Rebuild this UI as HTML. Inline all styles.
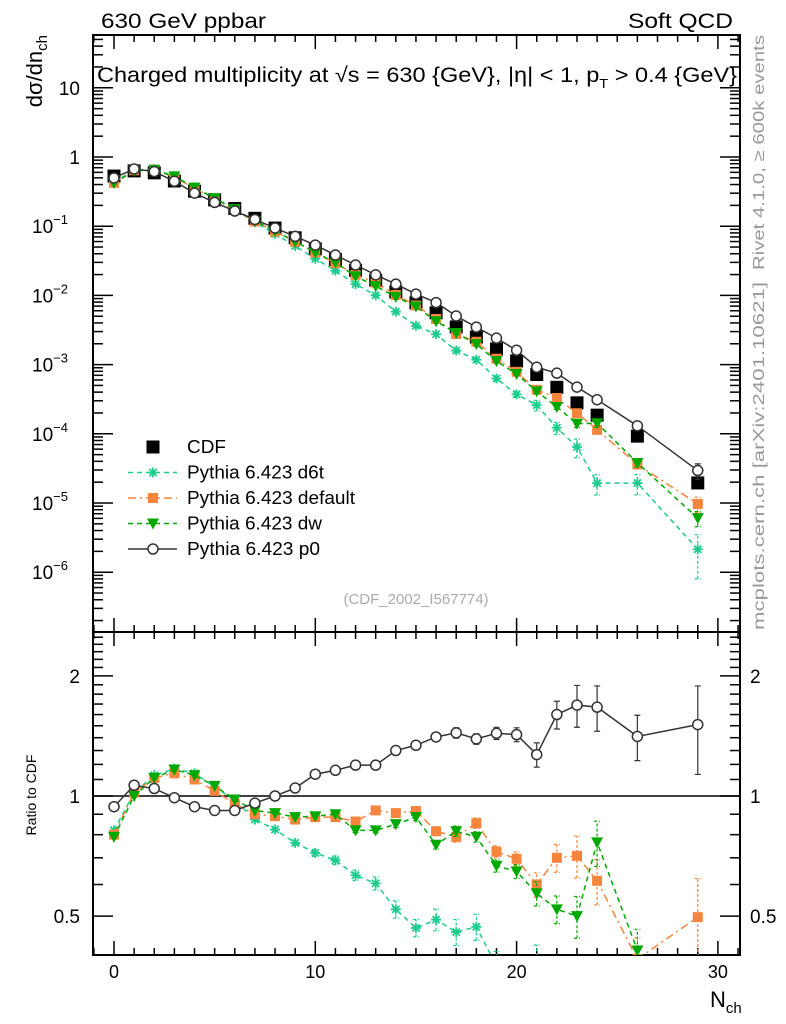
<!DOCTYPE html>
<html><head><meta charset="utf-8"><style>
html,body{margin:0;padding:0;background:#fff;overflow:hidden;width:786px;height:1024px;}
svg{display:block;font-family:"Liberation Sans",sans-serif;}
</style></head><body>
<svg id="chart" width="786" height="1024" viewBox="0 0 786 1024" xmlns="http://www.w3.org/2000/svg">
<defs>
<clipPath id="clipMain"><rect x="93" y="35" width="647" height="597"/></clipPath>
<clipPath id="clipRatio"><rect x="93" y="632" width="647" height="323"/></clipPath>
</defs>
<rect width="786" height="1024" fill="#fff"/>
<text x="101" y="28" font-size="21" textLength="165" lengthAdjust="spacingAndGlyphs">630 GeV ppbar</text>
<text x="628" y="28" font-size="21" textLength="105" lengthAdjust="spacingAndGlyphs">Soft QCD</text>
<text x="97" y="82" font-size="21" textLength="640" lengthAdjust="spacingAndGlyphs">Charged multiplicity at √s = 630 {GeV}, |η| &lt; 1, p<tspan font-size="13" dy="6">T</tspan><tspan dy="-6"> &gt; 0.4 {GeV}</tspan></text>
<text transform="translate(764,35) rotate(-90)" font-size="16" fill="#999" x="-235" textLength="235" lengthAdjust="spacingAndGlyphs">Rivet 4.1.0, ≥ 600k events</text>
<text transform="translate(764,282) rotate(-90)" font-size="16" fill="#999" x="-348" textLength="348" lengthAdjust="spacingAndGlyphs">mcplots.cern.ch [arXiv:2401.10621]</text>
<text x="416" y="604" font-size="15" fill="#aaa" text-anchor="middle">(CDF_2002_I567774)</text>
<text transform="translate(42,35) rotate(-90)" font-size="22" text-anchor="end">dσ/dn<tspan font-size="15" dy="5">ch</tspan></text>
<text transform="translate(36,795) rotate(-90)" font-size="14" text-anchor="middle">Ratio to CDF</text>
<text x="710" y="1007" font-size="22">N<tspan font-size="15" dy="6">ch</tspan></text>
<g id="axes"></g>
<g id="mainMarks" clip-path="url(#clipMain)"></g>
<g id="ratioMarks" clip-path="url(#clipRatio)"></g>
<g id="legend"></g>
</svg>
<script>
// ---- data ----
const nch = [0,1,2,3,4,5,6,7,8,9,10,11,12,13,14,15,16,17,18,19,20,21,22,23,24,26,29];
const cdfValues = [0.53,0.63,0.59,0.45,0.32,0.24,0.18,0.13,0.094,0.068,0.047,0.033,0.023,0.0166,0.0112,0.0078,0.0056,0.0035,0.0025,0.00168,0.00113,0.00072,0.00047,0.00028,0.000186,0.0000925,0.0000195];
const ratioD6t = [0.82,1.02,1.127,1.17,1.14,1.054,0.975,0.873,0.824,0.763,0.72,0.69,0.633,0.604,0.52,0.467,0.49,0.456,0.47,0.375,0.33,0.36,0.26,0.23,0.104,0.21,0.11];
const ratioDefault = [0.80,1.02,1.11,1.14,1.10,1.03,0.956,0.90,0.89,0.873,0.885,0.885,0.863,0.92,0.906,0.917,0.816,0.79,0.855,0.725,0.696,0.60,0.70,0.708,0.613,0.39,0.497];
const ratioDw = [0.79,1.0,1.11,1.165,1.127,1.06,0.98,0.92,0.906,0.885,0.89,0.90,0.82,0.82,0.85,0.885,0.755,0.816,0.79,0.668,0.647,0.57,0.52,0.50,0.765,0.41,0.31];
const ratioP0 = [0.94,1.064,1.044,0.99,0.94,0.92,0.92,0.96,1.0,1.047,1.134,1.16,1.195,1.195,1.30,1.34,1.406,1.44,1.39,1.436,1.425,1.27,1.60,1.69,1.67,1.41,1.51];
const relErr = [0,0,0,0,0,0,0,0,0,0.005,0.008,0.01,0.012,0.015,0.02,0.02,0.025,0.03,0.03,0.035,0.04,0.07,0.08,0.12,0.13,0.13,0.25];
const yTickExps = [1,0,-1,-2,-3,-4,-5,-6];
const ratioTickLabels = [0.5,1,2];
const xTickLabels = [0,10,20,30];
const legendLabels=['CDF','Pythia 6.423 d6t','Pythia 6.423 default','Pythia 6.423 dw','Pythia 6.423 p0'];

// ---- axes ----
const X = n => 114 + n*20.13;
const YM = v => 157 - 69.2*Math.log10(v);
const YR = r => 796 - 399*Math.log10(r);
const NS = "http://www.w3.org/2000/svg";
function mk(tag, attrs, parent){const e=document.createElementNS(NS,tag);for(const k in attrs)e.setAttribute(k,attrs[k]);parent.appendChild(e);return e;}
const axes = document.getElementById('axes');
const L=93,R=740,T=35,MB=632,RB=955;
let f1 = mk('rect',{x:L,y:T,width:R-L,height:MB-T,fill:'none',stroke:'#000','stroke-width':2},axes);


let f2 = mk('rect',{x:L,y:MB,width:R-L,height:RB-MB,fill:'none',stroke:'#000','stroke-width':2},axes);


for(let n=-1;n<=31;n++){
  const x=X(n); if(x<L||x>R) continue;
  const len = (n%10===0)?14:7;
  [[MB,-1],[T,1],[RB,-1],[MB,1]].forEach(([y,d])=>{
    mk('line',{x1:x,x2:x,y1:y,y2:y+d*len,stroke:'#000','stroke-width':1.5},axes);
  });
}
xTickLabels.forEach(v=>{
  const t=mk('text',{x:X(v),y:978,'font-size':18,'text-anchor':'middle'},axes);
  t.textContent=v;
  
  
});
for(let e=-7;e<=2;e++){
  for(let m=1;m<=9;m++){
    const y=YM(m*Math.pow(10,e)); if(y<T||y>MB) continue;
    const len=m===1?20:10;
    mk('line',{x1:L,x2:L+len,y1:y,y2:y,stroke:'#000','stroke-width':1.5},axes);
    mk('line',{x1:R,x2:R-len,y1:y,y2:y,stroke:'#000','stroke-width':1.5},axes);
  }
}
yTickExps.forEach(e=>{
  const t=mk('text',{x:80,y:YM(Math.pow(10,e))+7,'font-size':19,'text-anchor':'end'},axes);
  
  
  if(e===1){t.textContent='10';}
  else if(e===0){t.textContent='1';}
  else{t.setAttribute('x',68);t.textContent='10';const s=mk('tspan',{'font-size':13,dy:-9},t);s.textContent='−'+(-e);}
});
const rticks=[0.4,0.5,0.6,0.7,0.8,0.9,1,1.1,1.2,1.3,1.4,1.5,1.6,1.7,1.8,1.9,2,2.1,2.2,2.3,2.4,2.5];
rticks.forEach(r=>{
  const y=YR(r); if(y<MB||y>RB) return;
  const major=ratioTickLabels.includes(r);
  const len=major?20:10;
  mk('line',{x1:L,x2:L+len,y1:y,y2:y,stroke:'#000','stroke-width':1.5},axes);
  mk('line',{x1:R,x2:R-len,y1:y,y2:y,stroke:'#000','stroke-width':1.5},axes);
});
ratioTickLabels.forEach(r=>{
  const a=mk('text',{x:80,y:YR(r)+7,'font-size':19,'text-anchor':'end'},axes);
  a.textContent=r;
  
  
  const b=mk('text',{x:750,y:YR(r)+7,'font-size':19},axes);
  b.textContent=r;
  
  
});
let ul=mk('line',{x1:L,x2:R,y1:YR(1),y2:YR(1),stroke:'#000','stroke-width':1.5},axes);



// ---- series ----
const series=[
 {name:'d6t',ratio:ratioD6t,color:'#1ccc8c',dash:'5,4',marker:'star',width:1.5},
 {name:'default',ratio:ratioDefault,color:'#f5843c',dash:'8,4,2,4',marker:'square',width:1.5},
 {name:'dw',ratio:ratioDw,color:'#00a800',dash:'5,4',marker:'tri',width:1.5},
 {name:'p0',ratio:ratioP0,color:'#333',dash:'',marker:'circle',width:1.5}
];
function drawMarker(type,x,y,color,g){
  let e;
  if(type==='square'){e=mk('rect',{x:x-5,y:y-5,width:10,height:10,fill:color},g);}
  else if(type==='bigsquare'){e=mk('rect',{x:x-6.5,y:y-6.5,width:13,height:13,fill:color},g);}
  else if(type==='tri'){e=mk('path',{d:`M${x-6},${y-5}L${x+6},${y-5}L${x},${y+6}Z`,fill:color},g);}
  else if(type==='circle'){e=mk('circle',{cx:x,cy:y,r:5,fill:'#fff',stroke:color,'stroke-width':1.5},g);}
  else {e=mk('path',{d:`M${x-5},${y}H${x+5}M${x},${y-5}V${y+5}M${x-3.6},${y-3.6}L${x+3.6},${y+3.6}M${x-3.6},${y+3.6}L${x+3.6},${y-3.6}`,stroke:color,'stroke-width':1.8},g);}
  return e;
}
const mainG=document.getElementById('mainMarks');
const ratioG=document.getElementById('ratioMarks');
nch.forEach((n,i)=>{
  const m=drawMarker('bigsquare',X(n),YM(cdfValues[i]),'#000',mainG);
  
  
});
series.forEach(s=>{
  const gm=mk('g',{},mainG);
  
  
  const gr=mk('g',{},ratioG);
  
  
  const vals=nch.map((n,i)=>cdfValues[i]*s.ratio[i]);
  const ptsM=nch.map((n,i)=>X(n)+','+YM(vals[i])).join(' ');
  const ptsR=nch.map((n,i)=>X(n)+','+YR(s.ratio[i])).join(' ');
  const lm=mk('polyline',{points:ptsM,fill:'none',stroke:s.color,'stroke-width':s.width,'stroke-dasharray':s.dash},gm);
  
  
  const lr=mk('polyline',{points:ptsR,fill:'none',stroke:s.color,'stroke-width':s.width,'stroke-dasharray':s.dash},gr);
  
  
  nch.forEach((n,i)=>{
    let err=relErr[i]*(s.name==='d6t'?2.5:1);
    if(err>0.01){
      const x=X(n);
      const lo=err>=1?1e-9:vals[i]*(1-err), hi=vals[i]*(1+err);
      mk('path',{d:`M${x},${YM(lo)}V${YM(hi)}M${x-3},${YM(lo)}h6M${x-3},${YM(hi)}h6`,stroke:s.color,'stroke-width':1.2,'stroke-dasharray':s.dash?'3,2':''},gm);
      const rlo=Math.max(s.ratio[i]*(1-err),0.01), rhi=s.ratio[i]*(1+err);
      mk('path',{d:`M${x},${YR(rlo)}V${YR(rhi)}M${x-3},${YR(rlo)}h6M${x-3},${YR(rhi)}h6`,stroke:s.color,'stroke-width':1.2,'stroke-dasharray':s.dash?'3,2':''},gr);
    }
    const a=drawMarker(s.marker,X(n),YM(vals[i]),s.color,gm);
    
    
    const b=drawMarker(s.marker,X(n),YR(s.ratio[i]),s.color,gr);
    
    
  });
});
// ---- legend ----
const lg=document.getElementById('legend');


const legendY=[447,472.5,498,523.5,549];
const legendW=[39,137,168,135,133];
legendLabels.forEach((lab,i)=>{
  const g=mk('g',{},lg);
  
  
  const y=legendY[i];
  if(i===0){drawMarker('bigsquare',153,y,'#000',g);}
  else{
    const s=series[i-1];
    mk('line',{x1:128,x2:177,y1:y,y2:y,stroke:s.color,'stroke-width':1.5,'stroke-dasharray':s.dash},g);
    drawMarker(s.marker,153,y,s.color,g);
  }
  const t=mk('text',{x:187,y:y+6,'font-size':18,textLength:legendW[i],lengthAdjust:'spacingAndGlyphs'},g);
  t.textContent=lab;
});
</script>
</body></html>
